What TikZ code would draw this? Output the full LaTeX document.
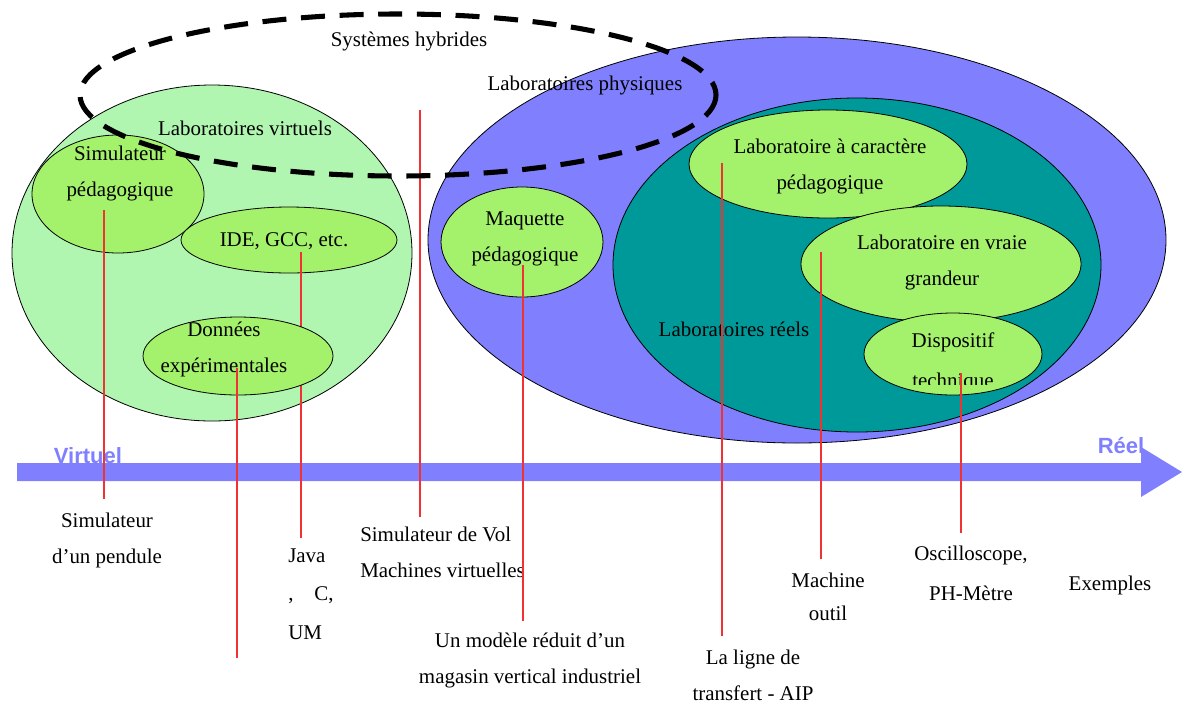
\documentclass[tikz,border=0pt]{standalone}
\usepackage{fontspec}
\setmainfont{Liberation Serif}
\newfontfamily\axefont{Liberation Sans}
\usepackage{xcolor}
\usepackage{tikz}

\definecolor{vertclair}{RGB}{176,246,176}
\definecolor{vertlabo}{RGB}{164,242,108}
\definecolor{bleulabo}{RGB}{128,128,255}
\definecolor{sarcelle}{RGB}{0,153,153}
\definecolor{rougetrait}{RGB}{240,50,50}

\begin{document}
\begin{tikzpicture}[x=0.75pt,y=-0.75pt,
	zone/.style={draw=black,line width=0.6pt},
	txt/.style={font=\fontsize{15.7}{27}\selectfont,align=center,inner sep=0pt},
	txtg/.style={font=\fontsize{15.7}{27}\selectfont,align=left,inner sep=0pt,anchor=west},
	axe/.style={font=\axefont\bfseries\fontsize{16.5}{20}\selectfont,text=bleulabo,inner sep=0pt,anchor=base},
	repere/.style={draw=rougetrait,line width=0.9pt},
	hybride/.style={draw=black,line width=3.8pt,dash pattern=on 18pt off 11pt}]
	\useasboundingbox (0,0) rectangle (1182,704);
	\fill[bleulabo] (17,463) -- (1141,463) -- (1141,447) -- (1182,472) -- (1141,497) -- (1141,481) -- (17,481) -- cycle;
	\node[axe] (virtuel) at (88,463) {Virtuel};
	\node[axe] (reel) at (1121,453) {Réel};

	\filldraw[zone,fill=vertclair] (212,253) ellipse [x radius=200, y radius=168];
	\filldraw[zone,fill=vertlabo] (118,194) ellipse [x radius=86, y radius=59];
	\filldraw[zone,fill=vertlabo] (289,240) ellipse [x radius=108, y radius=33];
	\coordinate (t3) at (301,252);
	\coordinate (e3) at (301,538);
	\draw[repere] (t3) -- (e3);
	\filldraw[zone,fill=vertlabo] (238,356) ellipse [x radius=95, y radius=39];

	\filldraw[zone,fill=bleulabo] (797,240) ellipse [x radius=369, y radius=203];
	\filldraw[zone,fill=sarcelle] (857,265) ellipse [x radius=244, y radius=167];
	\filldraw[zone,fill=vertlabo] (828,164) ellipse [x radius=139, y radius=54];
	\filldraw[zone,fill=vertlabo] (941,264) ellipse [x radius=140, y radius=58];
	\filldraw[zone,fill=vertlabo] (953,354) ellipse [x radius=89, y radius=41];
	\filldraw[zone,fill=vertlabo] (522,242) ellipse [x radius=81, y radius=55];

	\node[txt] (hybrides) at (409,41) {Systèmes hybrides};
	\node[txt] (physiques) at (585,85) {Laboratoires physiques};
	\node[txt] (virtuels) at (245,128) {Laboratoires virtuels};
	\node[txt] (simped) at (120,173) {Simulateur\\pédagogique};
	\node[txt] (ide) at (284,241) {IDE, GCC, etc.};
	\node[txt] (donnees) at (224,349) {Données\\expérimentales};
	\node[txt] (maquette) at (525,239) {Maquette\\pédagogique};
	\node[txt] (caractere) at (830,166) {Laboratoire à caractère\\pédagogique};
	\node[txt] (vraie) at (942,262) {Laboratoire en vraie\\grandeur};
	\node[txt] (reels) at (734,329) {Laboratoires réels};
	\begin{scope}
		\clip (860,320) rectangle (1045,384);
		\node[txt] (dispo) at (953,362) {Dispositif\\[3pt]technique};
	\end{scope}

	\node[txt] (pendule) at (107,540) {Simulateur\\d’un pendule};
	\node[txtg] (java) at (288,594) {Java\\[2pt],\quad C,\\[2pt]UM};
	\node[txtg] (vol) at (360,552) {Simulateur de Vol\\Machines virtuelles};
	\node[txt] (modele) at (530,660) {Un modèle réduit d’un\\magasin vertical industriel};
	\node[txt] (ligne) at (753,675) {La ligne de\\transfert - AIP};
	\node[txt] (machine) at (828,597) {Machine\\[-2pt]outil};
	\node[txt] (oscillo) at (971,573) {Oscilloscope,\\[3pt]PH-Mètre};
	\node[txt] (exemples) at (1110,585) {Exemples};

	\coordinate (t1) at (104,210);
	\coordinate (e1) at (104,499);
	\coordinate (t2) at (237,368);
	\coordinate (e2) at (237,658);
	\coordinate (t4) at (420,110);
	\coordinate (e4) at (420,517);
	\coordinate (t5) at (523,265);
	\coordinate (e5) at (523,621);
	\coordinate (t6) at (722,163);
	\coordinate (e6) at (722,636);
	\coordinate (t7) at (821,252);
	\coordinate (e7) at (821,559);
	\coordinate (t8) at (961,373);
	\coordinate (e8) at (961,533);
	\draw[repere] (t1) -- (e1);
	\draw[repere] (t2) -- (e2);
	\draw[repere] (t4) -- (e4);
	\draw[repere] (t5) -- (e5);
	\draw[repere] (t6) -- (e6);
	\draw[repere] (t7) -- (e7);
	\draw[repere] (t8) -- (e8);

	\draw[hybride] (398,95) ellipse [x radius=318, y radius=81];
\end{tikzpicture}
\end{document}
